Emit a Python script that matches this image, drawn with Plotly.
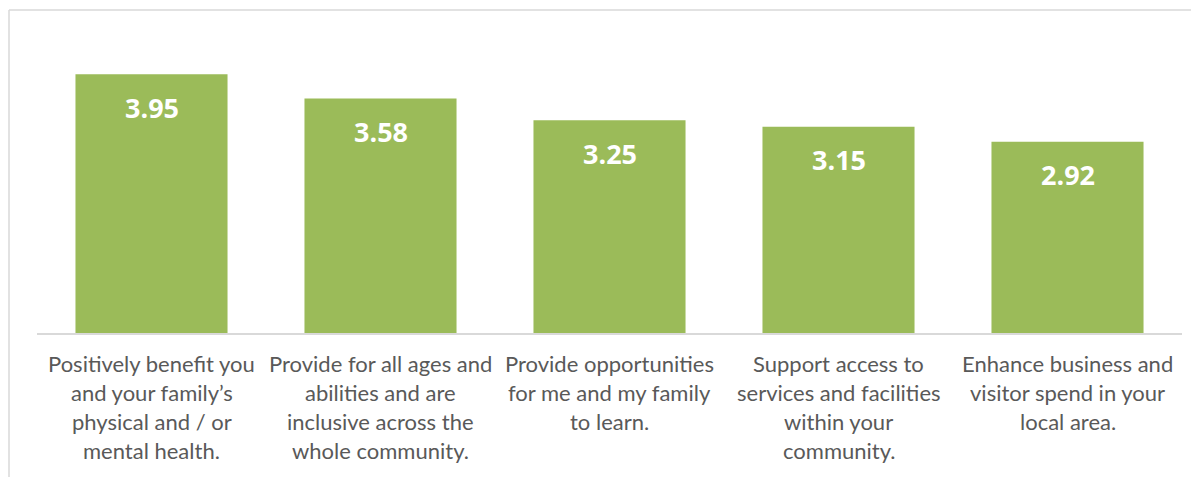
import plotly.graph_objects as go

categories = [
    "Positively benefit you<br>and your family’s<br>physical and / or<br>mental health.",
    "Provide for all ages and<br>abilities and are<br>inclusive across the<br>whole community.",
    "Provide opportunities<br>for me and my family<br>to learn.",
    "Support access to<br>services and facilities<br>within your<br>community.",
    "Enhance business and<br>visitor spend in your<br>local area.",
]
values = [3.95, 3.58, 3.25, 3.15, 2.92]
value_labels = ["3.95", "3.58", "3.25", "3.15", "2.92"]

BAR_COLOR = "#9BBB59"
TEXT_COLOR = "#595959"
GRID_COLOR = "#D9D9D9"

# page body has an 8px margin, so the figure is drawn from (8, 8)
W, H = 1191, 469
ML, MR, MT, MB = 29, 17, 30, 144
PW, PH = W - ML - MR, H - MT - MB

fig = go.Figure(
    go.Bar(
        x=categories,
        y=values,
        marker=dict(color=BAR_COLOR, line=dict(width=0)),
        hoverinfo="skip",
    )
)

annotations = []
for cat, v, lab in zip(categories, values, value_labels):
    annotations.append(dict(
        x=cat, y=v, xref="x", yref="y", text=lab, showarrow=False,
        yanchor="middle", yshift=-33,
        font=dict(family="Open Sans", size=27, color="white", weight="bold"),
    ))
    for j, line in enumerate(cat.split("<br>")):
        annotations.append(dict(
            x=cat, y=0, xref="x", yref="y", text=line, showarrow=False,
            yanchor="middle", yshift=-30 - 29 * j,
            font=dict(family="Lato", size=22, color=TEXT_COLOR),
        ))

# chart-area border (left and top edges)
bx = (1 - ML) / PW
by = 1 + (MT - 2) / PH
shapes = [
    dict(type="line", xref="paper", yref="paper", x0=bx, x1=bx, y0=by, y1=-(MB + 10) / PH,
         line=dict(color=GRID_COLOR, width=1.5)),
    dict(type="line", xref="paper", yref="paper", x0=bx, x1=1 + (MR + 10) / PW, y0=by, y1=by,
         line=dict(color=GRID_COLOR, width=1.5)),
]

fig.update_layout(
    width=W, height=H,
    margin=dict(l=ML, r=MR, t=MT, b=MB),
    paper_bgcolor="white", plot_bgcolor="white",
    bargap=0.336,
    showlegend=False,
    annotations=annotations,
    shapes=shapes,
    xaxis=dict(showticklabels=False, ticks="", showgrid=False, zeroline=False,
               showline=True, linecolor=GRID_COLOR, linewidth=1.5, fixedrange=True),
    yaxis=dict(range=[0, PH / 65.5], visible=False, showgrid=False, zeroline=False,
               fixedrange=True),
)

fig.write_html("out.html", config={"displayModeBar": False})
